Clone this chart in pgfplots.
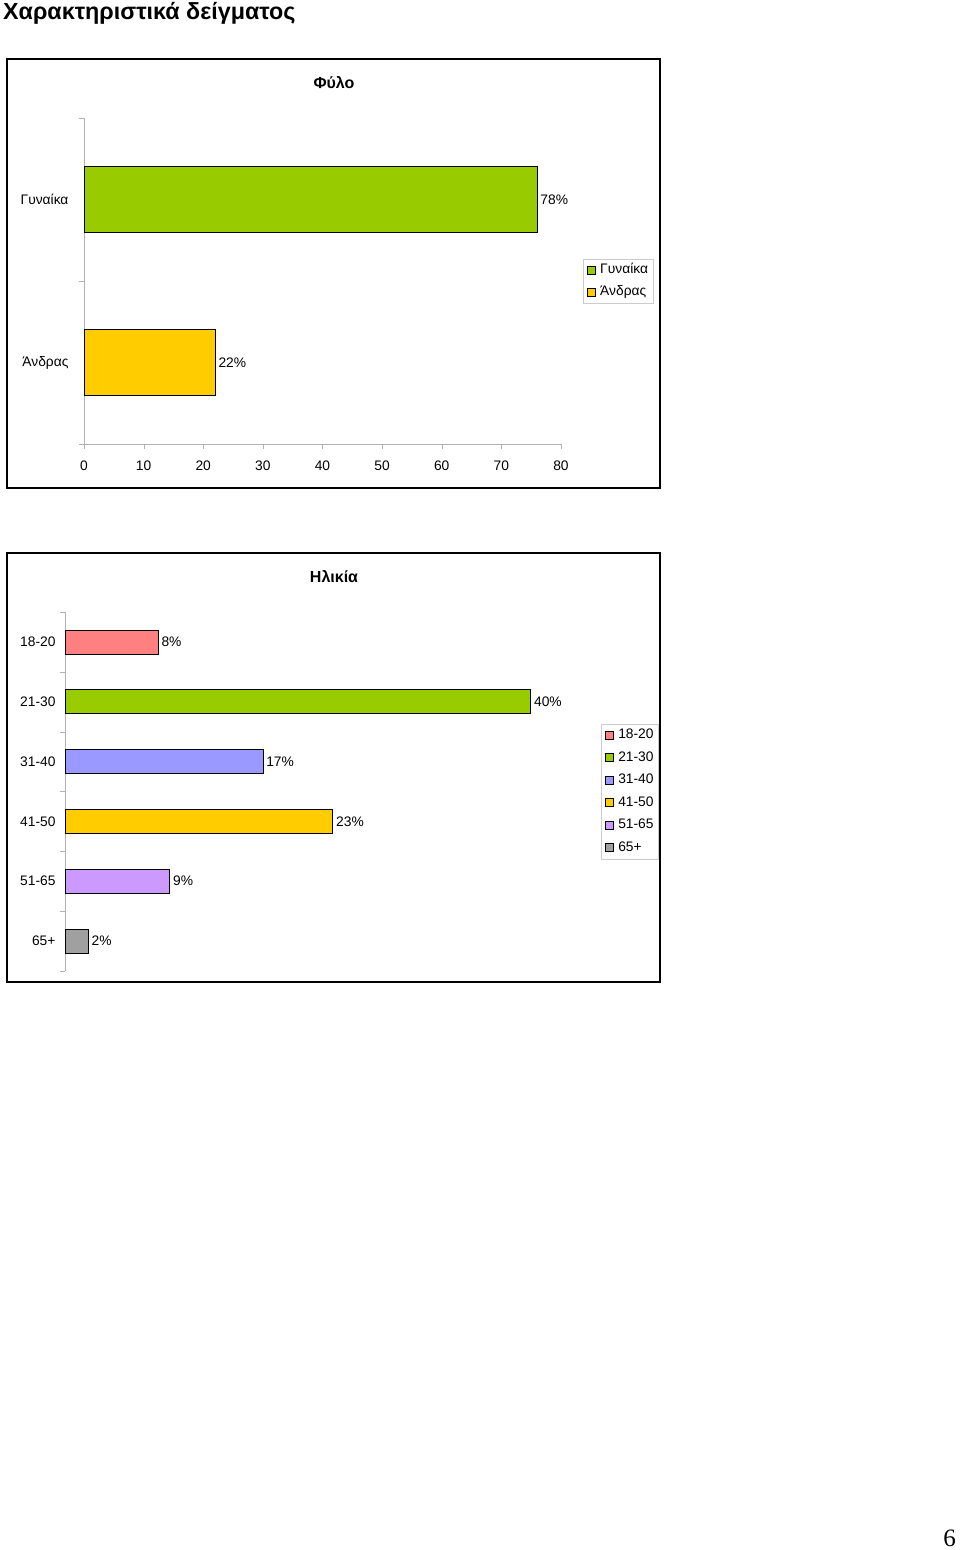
\documentclass[border=0pt]{standalone}
\usepackage{fontspec}
\setmainfont{Liberation Sans}
\newfontfamily\seriffont{Liberation Serif}
\usepackage{pgfplots}
\pgfplotsset{compat=1.18}
\definecolor{cgreen}{HTML}{99CC00}
\definecolor{cyellow}{HTML}{FFCC00}
\definecolor{cpink}{HTML}{FF8080}
\definecolor{cblue}{HTML}{9999FF}
\definecolor{cviolet}{HTML}{CC99FF}
\definecolor{cgray}{HTML}{A0A0A0}
\newcommand{\lbl}{\fontsize{13.8}{16}\selectfont}
\pgfplotsset{
  mybars/.style={
    scale only axis,
    xbar, bar shift=0pt,
    /pgf/number format/assume math mode=true,
    tick label style={font=\lbl},
    axis line style={draw=gray!60,-},
    tick style={draw=gray!60},
    tick align=outside,
    major tick length=5pt,
    yticklabels={},
    extra y tick style={major tick length=0pt},
    point meta=explicit symbolic,
    nodes near coords,
    nodes near coords style={font=\lbl, anchor=west, inner sep=3pt, text=black},
    legend cell align=left,
    legend image code/.code={\draw[#1,draw=black,line width=0.6pt] (0pt,-4pt) rectangle (8pt,4pt);},
    legend style={draw=gray!40, font=\lbl, inner xsep=3.5pt, inner ysep=3pt, column sep=3.5pt,
      nodes={inner sep=1.5pt, text height=10pt, text depth=3pt}, row sep=6pt},
    every axis plot/.append style={draw=black, line width=0.7pt},
  }
}
\begin{document}
\begin{tikzpicture}
\path[use as bounding box] (0pt,0pt) rectangle (960pt,1550pt);
% page title
\node[anchor=base west, inner sep=0pt, font=\fontsize{23.3}{26}\selectfont\bfseries] at (3pt,1530pt) {Χαρακτηριστικά δείγματος};
% page number
\node[anchor=base east, inner sep=0pt, font=\seriffont\fontsize{25}{28}\selectfont] at (956pt,3pt) {6};
% frames
\draw[line width=1.2pt] (7pt,1491pt) rectangle (660pt,1062pt);
\draw[line width=1.2pt] (7pt,997pt) rectangle (660pt,568pt);
% chart titles
\node[font=\fontsize{16}{19}\selectfont\bfseries] at (334pt,1467pt) {Φύλο};
\node[font=\fontsize{16}{19}\selectfont\bfseries] at (334pt,973pt) {Ηλικία};

% ---------- chart 1 ----------
\begin{axis}[mybars,
  at={(84pt,1106pt)}, anchor=south west,
  width=477pt, height=326pt,
  xmin=0, xmax=80, ymin=-0.5, ymax=1.5,
  axis x line*=bottom, axis y line*=left,
  xtick={0,10,...,80},
  xticklabel style={yshift=-8pt},
  ytick={-0.5,0.5,1.5},
  extra y ticks={0,1},
  extra y tick labels={Άνδρας,Γυναίκα},
  extra y tick style={yticklabel style={xshift=-12pt}},
  bar width=66pt,
  legend style={at={(axis description cs:1.046,0.567)}, anchor=north west},
]
\addplot[fill=cgreen] coordinates {(76,1) [78\%]};
\addplot[fill=cyellow] coordinates {(22,0) [22\%]};
\legend{Γυναίκα,Άνδρας}
\end{axis}

% ---------- chart 2 ----------
\begin{axis}[mybars,
  at={(65pt,579pt)}, anchor=south west,
  width=524pt, height=359pt,
  xmin=0, xmax=45, ymin=-0.5, ymax=5.5,
  y dir=reverse,
  axis x line=none, axis y line*=left,
  ytick={-0.5,0.5,...,5.5},
  extra y ticks={0,1,2,3,4,5},
  extra y tick labels={18-20,21-30,31-40,41-50,51-65,65+},
  extra y tick style={yticklabel style={xshift=-6pt}},
  bar width=24pt,
  legend style={at={(axis description cs:1.0229,0.688)}, anchor=north west, row sep=6.5pt},
]
\addplot[fill=cpink] coordinates {(8,0) [8\%]};
\addplot[fill=cgreen] coordinates {(40,1) [40\%]};
\addplot[fill=cblue] coordinates {(17,2) [17\%]};
\addplot[fill=cyellow] coordinates {(23,3) [23\%]};
\addplot[fill=cviolet] coordinates {(9,4) [9\%]};
\addplot[fill=cgray] coordinates {(2,5) [2\%]};
\legend{18-20,21-30,31-40,41-50,51-65,65+}
\end{axis}
\end{tikzpicture}
\end{document}
